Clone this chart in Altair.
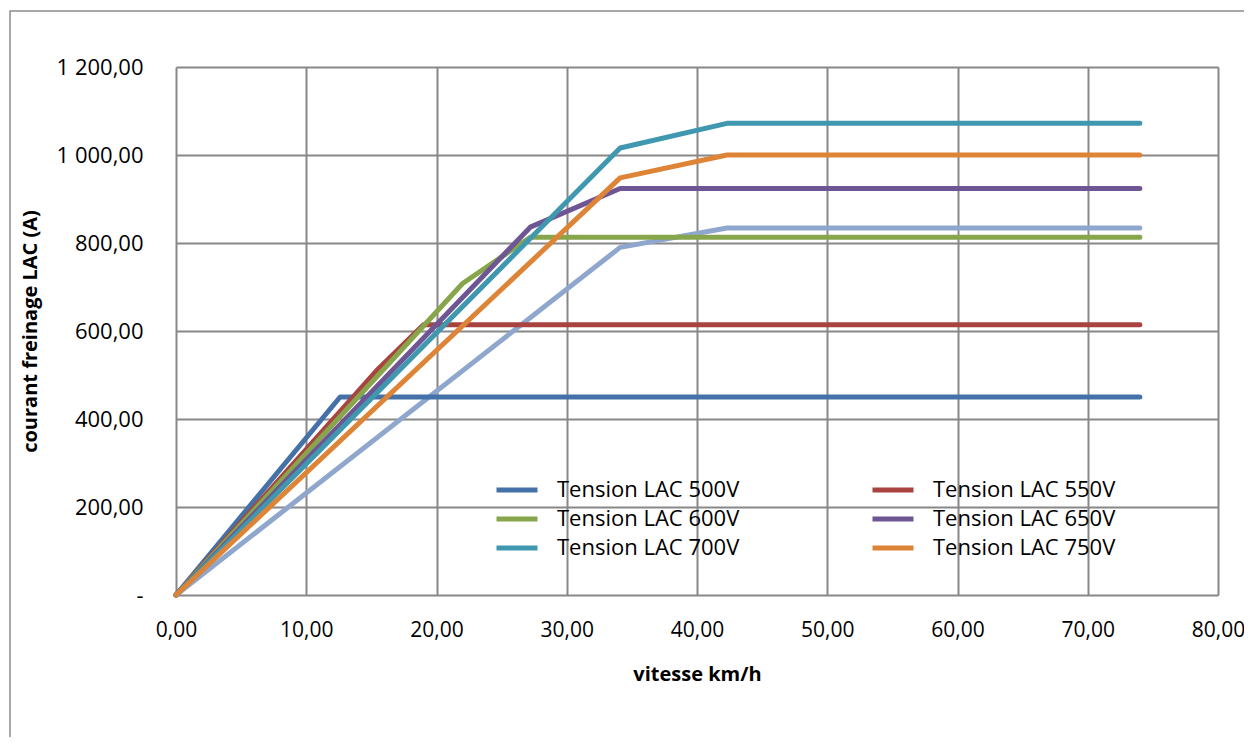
import altair as alt
import pandas as pd

# Series data (vitesse km/h, courant A)
x_500 = [0, 12.6, 74]
y_500 = [0, 450, 450]
x_550 = [0, 15.4, 19.0, 74]
y_550 = [0, 510, 614, 614]
x_600 = [0, 22.0, 27.2, 74]
y_600 = [0, 708, 813, 813]
x_650 = [0, 27.2, 34.1, 74]
y_650 = [0, 836, 924, 924]
x_700 = [0, 34.1, 42.3, 74]
y_700 = [0, 1016, 1072, 1072]
x_750 = [0, 34.1, 42.3, 74]
y_750 = [0, 948, 1000, 1000]
x_800 = [0, 34.1, 42.3, 74]
y_800 = [0, 790, 834, 834]

names = ["Tension LAC 500V", "Tension LAC 550V", "Tension LAC 600V",
         "Tension LAC 650V", "Tension LAC 700V", "Tension LAC 750V"]
colors = ["#4472A8", "#A9433F", "#87A64B", "#6E5593", "#3F98AF", "#DE8436"]
extra_color = "#8FA7CD"

rows = []
for name, xs, ys in zip(names, [x_500, x_550, x_600, x_650, x_700, x_750],
                        [y_500, y_550, y_600, y_650, y_700, y_750]):
    for i, (a, b) in enumerate(zip(xs, ys)):
        rows.append({"serie": name, "v": a, "i": b, "o": i})
df = pd.DataFrame(rows)
df_extra = pd.DataFrame({"v": x_800, "i": y_800, "o": list(range(len(x_800)))})

FONT = "Open Sans"
GRID = "#888888"

x_enc = alt.X("v:Q", scale=alt.Scale(domain=[0, 80], nice=False),
              axis=alt.Axis(title="vitesse km/h", values=list(range(0, 81, 10)),
                            labelExpr="replace(format(datum.value, '.2f'), '.', ',')",
                            labelFontSize=21, labelFont=FONT, labelColor="#000",
                            labelPadding=24, labelFlush=False, labelOverlap=False,
                            titleFontSize=20, titleFont=FONT,
                            titleFontWeight="bold", titleColor="#000", titlePadding=24,
                            ticks=False, domain=False, grid=True, gridColor=GRID,
                            gridWidth=2))
y_enc = alt.Y("i:Q", scale=alt.Scale(domain=[0, 1200], nice=False),
              axis=alt.Axis(title="courant freinage LAC (A)", values=list(range(0, 1201, 200)),
                            labelExpr="datum.value == 0 ? '-\u00a0\u00a0\u00a0' : replace(replace(format(datum.value, ',.2f'), ',', ' '), '.', ',')",
                            labelFontSize=22, labelFont=FONT, labelColor="#000",
                            labelPadding=33, labelFlush=False, labelOverlap=False,
                            titleFontSize=20, titleFont=FONT,
                            titleFontWeight="bold", titleColor="#000", titlePadding=16,
                            ticks=False, domain=False, grid=True, gridColor=GRID,
                            gridWidth=2))

frame = alt.Chart(alt.Data(values=[{}])).mark_rect(
    fillOpacity=0, stroke="#8c8c8c", strokeWidth=1.5, clip=False
).encode(x=alt.value(-166), x2=alt.value(1100), y=alt.value(-56), y2=alt.value(700))

extra = alt.Chart(df_extra).mark_line(
    strokeWidth=5, strokeCap="round", strokeJoin="round", color=extra_color
).encode(x=x_enc, y=y_enc, order="o:Q")

lines = alt.Chart(df).mark_line(
    strokeWidth=5, strokeCap="round", strokeJoin="round"
).encode(
    x=x_enc, y=y_enc, order="o:Q",
    color=alt.Color("serie:N", scale=alt.Scale(domain=names, range=colors),
                    legend=alt.Legend(title=None, orient="none", legendX=318, legendY=411,
                                      direction="horizontal",
                                      columns=2, symbolType="stroke", symbolStrokeWidth=5,
                                      symbolSize=1681, labelFontSize=22, labelFont=FONT,
                                      labelColor="#000", labelOffset=17, columnPadding=130,
                                      clipHeight=24, rowPadding=5, labelLimit=400)),
)

chart = alt.layer(frame, extra, lines).properties(
    width=1042, height=528,
    autosize=alt.AutoSizeParams(type="none"),
    padding={"left": 168, "top": 59, "right": 26, "bottom": 142},
).configure_view(stroke=GRID, strokeWidth=2).configure(background="white")

chart.save("out.html", embed_options={"renderer": "svg", "actions": False})
